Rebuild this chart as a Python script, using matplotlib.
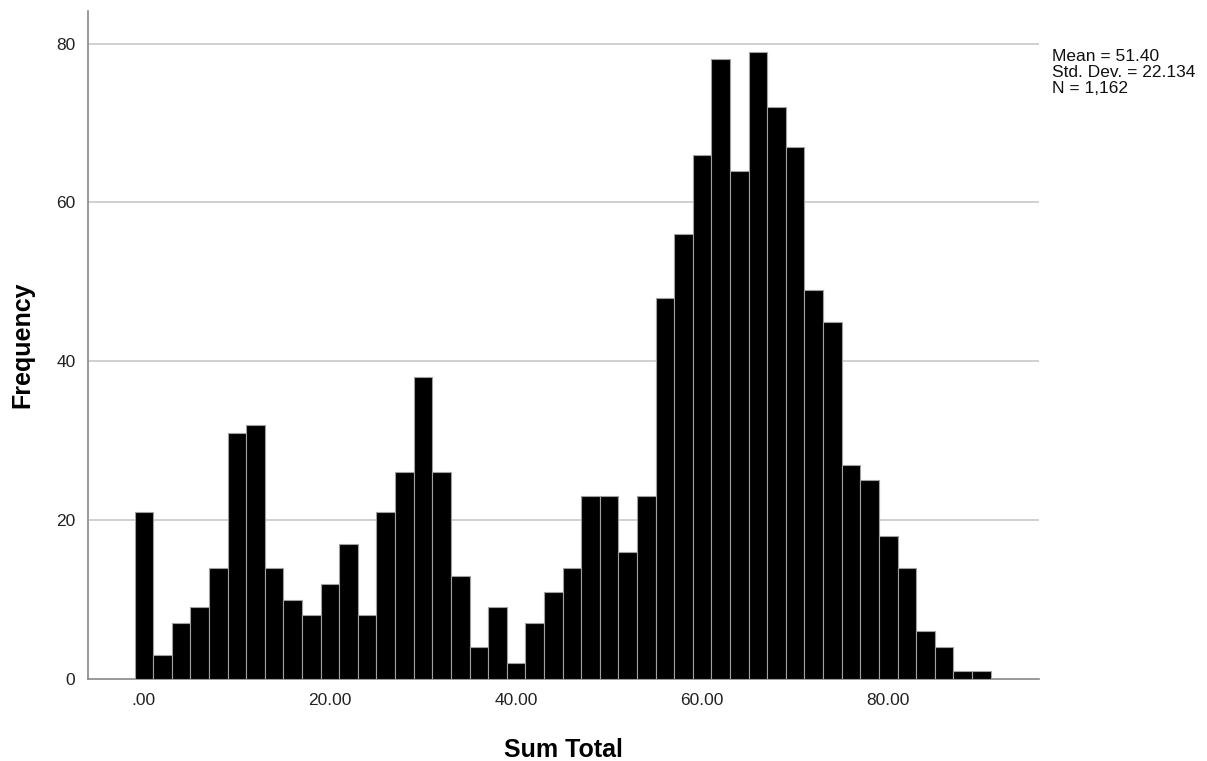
import matplotlib
matplotlib.use('Agg')
from matplotlib import pyplot as plt
import numpy as np

plt.rcParams['font.family'] = ['Liberation Sans', 'DejaVu Sans']

# bin centres (width 2) and counts
bin_centers = np.arange(0, 92, 2)
counts = [21, 3, 7, 9, 14, 31, 32, 14, 10, 8,
          12, 17, 8, 21, 26, 38, 26, 13, 4, 9,
          2, 7, 11, 14, 23, 23, 16, 23, 48, 56,
          66, 78, 64, 79, 72, 67, 49, 45, 27, 25,
          18, 14, 6, 4, 1, 1]
x_ticks = [0, 20, 40, 60, 80]
x_tick_labels = ['.00', '20.00', '40.00', '60.00', '80.00']
y_ticks = [0, 20, 40, 60, 80]
stats_text = 'Mean = 51.40\nStd. Dev. = 22.134\nN = 1,162'

fig = plt.figure(figsize=(12.07, 7.61), dpi=100)
ax = fig.add_axes([0.0729, 0.1078, 0.7879, 0.8777])

ax.bar(bin_centers, counts, width=2, color='black', edgecolor='#a0a0a0',
       linewidth=0.8, zorder=3)

ax.set_xlim(-6.0, 96.2)
ax.set_ylim(0, 84.1)
ax.set_xticks(x_ticks)
ax.set_xticklabels(x_tick_labels)
ax.set_yticks(y_ticks)
ax.tick_params(length=0, labelsize=12.5, colors='#222222')
ax.tick_params(axis='x', pad=10)
ax.tick_params(axis='y', pad=9)

for y in y_ticks[1:]:
    ax.axhline(y, color='#c8c8c8', linewidth=1.2, zorder=1)

for s in ['top', 'right']:
    ax.spines[s].set_visible(False)
for s in ['left', 'bottom']:
    ax.spines[s].set_color('#888888')
    ax.spines[s].set_linewidth(1.2)

ax.set_xlabel('Sum Total', fontsize=18, fontweight='bold', labelpad=22)
ax.set_ylabel('Frequency', fontsize=18, fontweight='bold', labelpad=16)

fig.text(1052 / 1207, 1 - 49 / 761, stats_text, fontsize=12.5, va='top',
         ha='left', linespacing=1.1, color='#111111')

fig.savefig('out.png', dpi=100)
